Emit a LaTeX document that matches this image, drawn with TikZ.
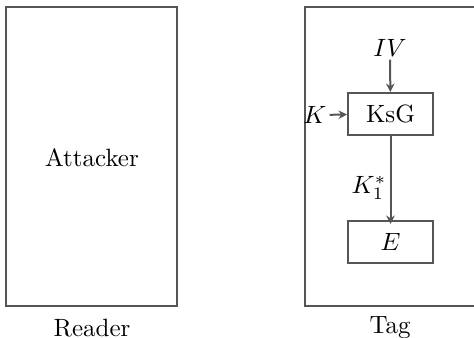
\documentclass[tikz,border=0pt]{standalone}
\usetikzlibrary{arrows.meta}
\definecolor{linegray}{HTML}{555555}
\begin{document}
\begin{tikzpicture}[x=0.40pt,y=-0.40pt,
  frame/.style={draw=linegray,line width=0.8pt},
  blockbox/.style={draw=linegray,line width=0.8pt,minimum width=85*0.40pt,minimum height=42*0.40pt,inner sep=0pt},
  flow/.style={draw=linegray,line width=0.8pt,-{Stealth[length=3.4pt,width=3.4pt]}}]
  \useasboundingbox (0,0) rectangle (474,338);
  % reader side
  \draw[frame] (6,7) rectangle (177,306);
  \node (att) at (92,158) {Attacker};
  \node (rdr) at (92,328) {Reader};
  % tag side (box runs past the right margin)
  \begin{scope}
    \clip (0,0) rectangle (474,338);
    \draw[frame] (305,7) rectangle (480,306);
  \end{scope}
  \node (tag) at (390,328) {Tag};
  \node[blockbox] (ksg) at (390.5,114) {KsG};
  \node[blockbox] (enc) at (390.5,242) {$E$};
  \node[inner sep=1pt] (iv) at (390,48) {$IV$};
  \node[inner sep=1pt] (k) at (315,115) {$K$};
  \node (k1) at (369,188) {$K_1^*$};
  \draw[flow] (iv) -- (ksg);
  \draw[flow] (k) -- (ksg);
  \draw[flow] (ksg) -- ([yshift=-1.6pt]enc.north);
\end{tikzpicture}
\end{document}
